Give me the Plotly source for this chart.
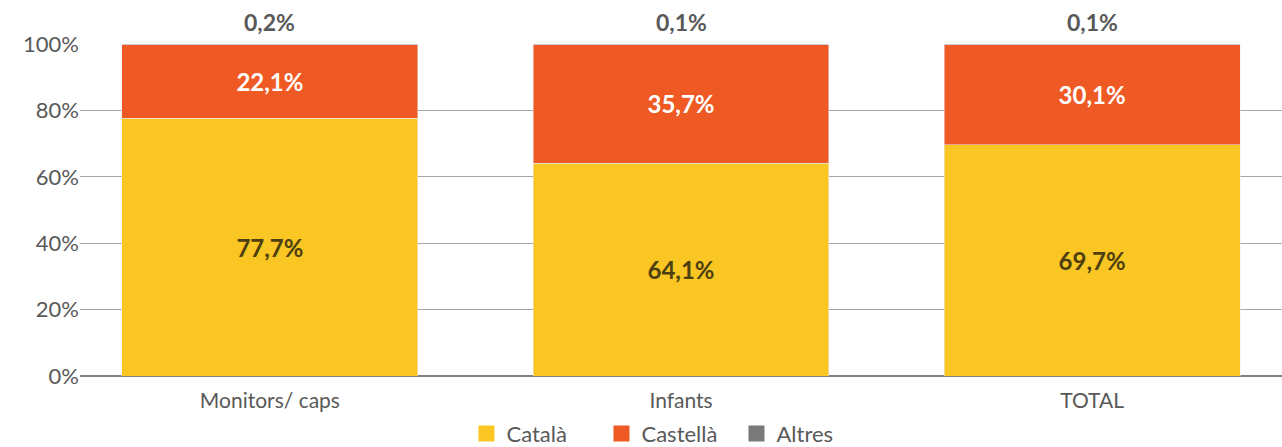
import plotly.graph_objects as go

categories = ["Monitors/ caps", "Infants", "TOTAL"]
catala = [77.7, 64.1, 69.7]
castella = [22.1, 35.7, 30.1]
altres = [0.2, 0.1, 0.1]
y_ticks = [0, 20, 40, 60, 80, 100]

series = [("Català", catala, "#F9C623", "#4d3f0f"),
          ("Castellà", castella, "#EF5A24", "white"),
          ("Altres", altres, "#7a7a7a", None)]

FONT = "Lato, 'Source Sans Pro', 'Open Sans', sans-serif"

fig = go.Figure()
for name, vals, color, txtcolor in series:
    fig.add_trace(go.Bar(
        x=categories, y=vals, name=name, marker_color=color,
        legendgroup=name, showlegend=False,
        texttemplate="<b>%{y:.1f}%</b>" if txtcolor else None,
        textposition="inside" if txtcolor else "none",
        insidetextanchor="middle",
        textfont=dict(color=txtcolor, size=24, family=FONT),
    ))
# legend entries with bigger square swatches
for name, vals, color, txtcolor in series:
    fig.add_trace(go.Scatter(
        x=[None], y=[None], mode="markers", name=name, legendgroup=name,
        marker=dict(symbol="square", size=20, color=color),
    ))

# Altres labels above each bar
for cat, a, b, c in zip(categories, catala, castella, altres):
    fig.add_annotation(
        x=cat, y=min(round(a + b + c, 1), 100), text=f"<b>{c:.1f}%</b>".replace(".", ","),
        showarrow=False, yanchor="bottom", yshift=6,
        font=dict(color="#595959", size=23, family=FONT),
    )

fig.update_layout(
    barmode="stack",
    bargap=0.28,
    width=1282, height=447,
    margin=dict(l=80, r=0, t=44, b=71, autoexpand=False),
    plot_bgcolor="white", paper_bgcolor="white",
    separators=",.",
    font=dict(family=FONT, color="#595959"),
    showlegend=True,
    legend=dict(
        orientation="h", x=0.49, xanchor="center",
        yref="container", y=0.03, yanchor="middle",
        font=dict(size=22, color="#595959"), traceorder="normal",
        entrywidth=90,
    ),
)
fig.update_xaxes(
    range=[-0.462, 2.462], showgrid=False, showline=False,
    tickfont=dict(size=21, color="#595959"), ticks="", ticklabelstandoff=10,
)
fig.update_yaxes(
    range=[0, 100], tickvals=y_ticks, ticktext=[f"{v}%" for v in y_ticks],
    showgrid=True, gridcolor="#a6a6a6", gridwidth=1,
    zeroline=True, zerolinecolor="#808080", zerolinewidth=2,
    tickfont=dict(size=22, color="#595959"),
)

# drop the default page margin so the figure sits at the window's corner
fig.write_html("out.html", config={"displayModeBar": False},
               post_script="document.body.style.margin='0';")
